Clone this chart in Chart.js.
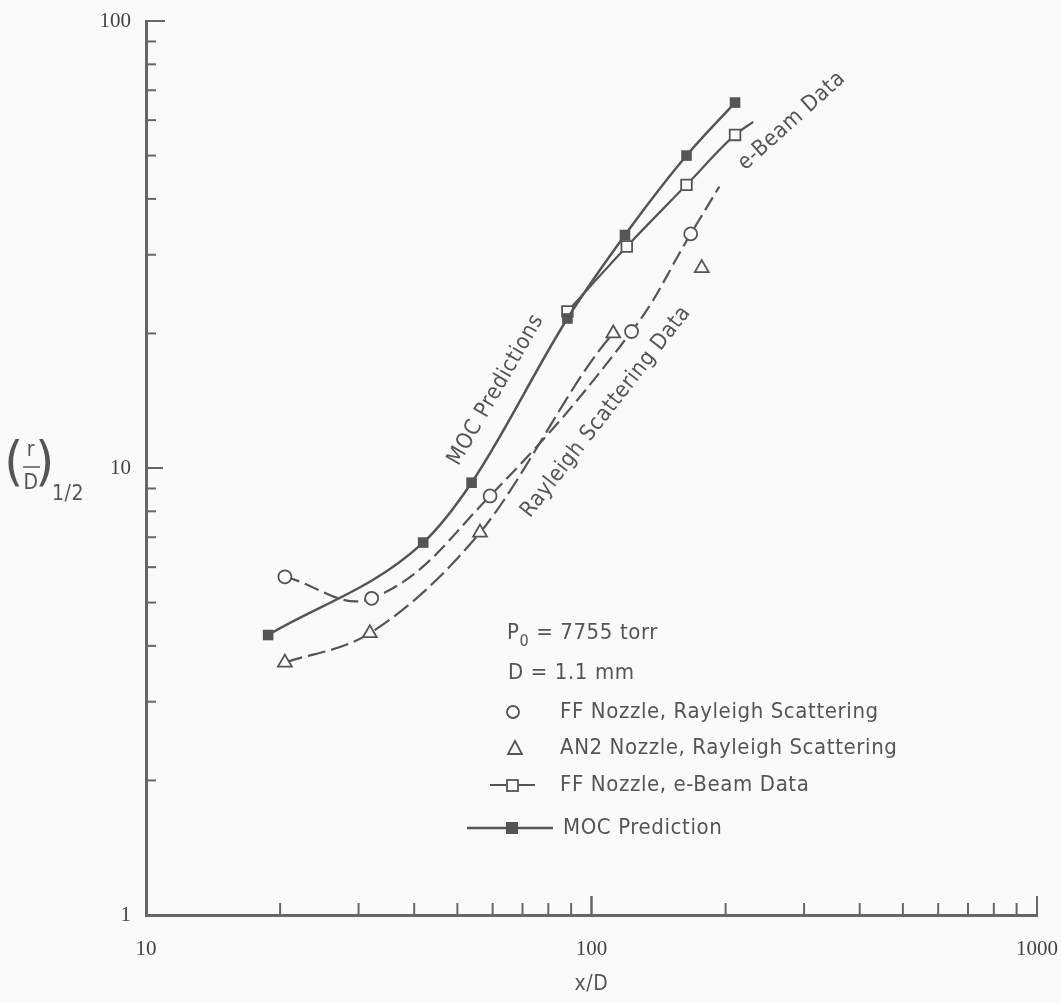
<!DOCTYPE html>
<html>
<head>
<meta charset="utf-8">
<script src="https://cdn.jsdelivr.net/npm/chart.js@4.4.0/dist/chart.umd.min.js"></script>
<style>
html, body { margin: 0; padding: 0; background: #fafafa; }
#wrap { width: 1061px; height: 1003px; }
</style>
</head>
<body>
<div id="wrap"><canvas id="chart" width="1061" height="1003"></canvas></div>
<script>
// values: x/D and (r/D)1/2
const mocX = [18.8, 41.9, 53.8, 88.3, 118.9, 163.4, 210];
const mocY = [4.23, 6.81, 9.27, 21.6, 33.2, 50.0, 65.7];

// last point of each of these two is only the end of the drawn curve
const ebeamX = [88.3, 120, 163.4, 210, 230.7];
const ebeamY = [22.4, 31.3, 43.0, 55.6, 59.5];

const ffRayX = [20.5, 32.1, 59.2, 123, 167, 193.6];
const ffRayY = [5.71, 5.11, 8.66, 20.2, 33.4, 42.6];

const an2X = [20.5, 31.8, 56.2, 111.9, 176.8];
const an2Y = [3.67, 4.27, 7.17, 20.0, 28.0];

const xTickLabels = [10, 100, 1000];
const yTickLabels = [1, 10, 100];

const ink = '#555555';
const axisInk = '#666666';
const sans = '"Liberation Sans Narrow", "DejaVu Sans Condensed", "Open Sans", sans-serif';
const serif = '"Liberation Serif", "DejaVu Serif", serif';

function pts(xs, ys) {
    return xs.map((x, i) => ({ x: x, y: ys[i] }));
}

function isLabel(list, v) {
    return list.some(t => Math.abs(t - v) < t * 1e-6);
}

// inward tick marks, axis titles, in-plot notes and the key
const decor = {
    id: 'decor',
    afterDraw(chart) {
        const ctx = chart.ctx;
        const xs = chart.scales.x, ys = chart.scales.y;
        const area = chart.chartArea;
        ctx.save();
        ctx.strokeStyle = axisInk;
        ctx.lineWidth = 2;
        // x ticks pointing up
        for (let d = 10; d < 1000; d *= 10) {
            for (let k = 1; k <= 10; k++) {
                if (d === 10 && k === 1) continue;
                const px = xs.getPixelForValue(k * d);
                const len = (k === 1 || k === 10) ? 19 : 12;
                ctx.beginPath();
                ctx.moveTo(px, area.bottom);
                ctx.lineTo(px, area.bottom - len);
                ctx.stroke();
            }
        }
        // y ticks pointing right
        for (let d = 1; d < 100; d *= 10) {
            for (let k = 2; k <= 10; k++) {
                if (d === 1 && k === 10) continue;
                const py = ys.getPixelForValue(k * d);
                const len = (k === 10) ? 19 : 10;
                ctx.beginPath();
                ctx.moveTo(area.left, py);
                ctx.lineTo(area.left + len, py);
                ctx.stroke();
            }
        }
        const p10 = ys.getPixelForValue(10);
        ctx.beginPath();
        ctx.moveTo(area.left, p10);
        ctx.lineTo(area.left + 17, p10);
        ctx.stroke();

        ctx.fillStyle = ink;
        ctx.textBaseline = 'middle';
        ctx.letterSpacing = '0.6px';

        // x title
        ctx.textAlign = 'center';
        ctx.font = '21px ' + sans;
        ctx.fillText('x/D', xs.getPixelForValue(100), 985);

        // y title (r/D)1/2
        ctx.font = '300 54px ' + sans;
        ctx.fillText('(', 14, 466);
        ctx.fillText(')', 45, 466);
        ctx.font = '21px ' + sans;
        ctx.fillText('r', 31, 451);
        ctx.fillText('D', 31, 484);
        ctx.lineWidth = 1.5;
        ctx.strokeStyle = ink;
        ctx.beginPath();
        ctx.moveTo(23, 467);
        ctx.lineTo(40, 467);
        ctx.stroke();
        ctx.textAlign = 'left';
        ctx.fillText('1/2', 52, 495);

        // notes along the curves
        const note = (txt, x, y, deg) => {
            ctx.save();
            ctx.translate(x, y);
            ctx.rotate(deg * Math.PI / 180);
            ctx.textAlign = 'center';
            ctx.fillText(txt, 0, 0);
            ctx.restore();
        };
        ctx.font = '22px ' + sans;
        note('MOC Predictions', 496, 390, -60);
        note('Rayleigh Scattering Data', 606, 412, -52);
        note('e-Beam Data', 792, 121, -42);

        // key
        ctx.textAlign = 'left';
        ctx.font = '22px ' + sans;
        ctx.fillText('P', 507, 633);
        let w = ctx.measureText('P').width;
        ctx.font = '16px ' + sans;
        ctx.fillText('0', 507 + w, 642);
        w += ctx.measureText('0').width;
        ctx.font = '22px ' + sans;
        ctx.fillText(' = 7755 torr', 507 + w, 633);
        ctx.fillText('D = 1.1 mm', 508, 673);

        ctx.lineWidth = 1.8;
        ctx.fillStyle = '#fafafa';
        ctx.beginPath();
        ctx.arc(513, 712, 6, 0, Math.PI * 2);
        ctx.fill(); ctx.stroke();
        ctx.beginPath();
        ctx.moveTo(515, 741);
        ctx.lineTo(522, 754);
        ctx.lineTo(508, 754);
        ctx.closePath();
        ctx.fill(); ctx.stroke();

        ctx.lineWidth = 2.2;
        ctx.beginPath();
        ctx.moveTo(490, 785); ctx.lineTo(506, 785);
        ctx.moveTo(518, 785); ctx.lineTo(535, 785);
        ctx.stroke();
        ctx.lineWidth = 1.8;
        ctx.fillRect(507, 780, 11, 11);
        ctx.strokeRect(507, 780, 11, 11);

        ctx.lineWidth = 2.5;
        ctx.beginPath();
        ctx.moveTo(467, 828); ctx.lineTo(553, 828);
        ctx.stroke();
        ctx.fillStyle = ink;
        ctx.fillRect(506, 822, 12, 12);

        ctx.fillText('FF Nozzle, Rayleigh Scattering', 560, 712);
        ctx.fillText('AN2 Nozzle, Rayleigh Scattering', 560, 748);
        ctx.fillText('FF Nozzle, e-Beam Data', 560, 785);
        ctx.fillText('MOC Prediction', 563, 828);
        ctx.restore();
    }
};

const ctx = document.getElementById('chart').getContext('2d');
new Chart(ctx, {
    type: 'scatter',
    data: {
        datasets: [
            {
                label: 'MOC Prediction',
                data: pts(mocX, mocY),
                showLine: true,
                cubicInterpolationMode: 'monotone',
                borderColor: ink,
                borderWidth: 2.5,
                pointStyle: 'rect',
                pointRadius: 7.5,
                pointBackgroundColor: ink,
                pointBorderColor: ink,
                pointBorderWidth: 0
            },
            {
                label: 'FF Nozzle, e-Beam Data',
                data: pts(ebeamX, ebeamY),
                showLine: true,
                cubicInterpolationMode: 'monotone',
                borderColor: ink,
                borderWidth: 2.2,
                pointStyle: 'rect',
                pointRadius: ebeamX.map((x, i) => i === ebeamX.length - 1 ? 0 : 7.5),
                pointBackgroundColor: '#fafafa',
                pointBorderColor: ink,
                pointBorderWidth: 1.8
            },
            {
                label: 'FF Nozzle, Rayleigh Scattering',
                data: pts(ffRayX, ffRayY),
                showLine: true,
                tension: 0.4,
                borderColor: ink,
                borderWidth: 2.2,
                borderDash: [15, 6],
                pointStyle: 'circle',
                pointRadius: ffRayX.map((x, i) => i === ffRayX.length - 1 ? 0 : 6.5),
                pointBackgroundColor: '#fafafa',
                pointBorderColor: ink,
                pointBorderWidth: 1.8
            },
            {
                label: 'AN2 Nozzle, Rayleigh Scattering',
                data: pts(an2X, an2Y),
                showLine: true,
                cubicInterpolationMode: 'monotone',
                borderColor: ink,
                borderWidth: 2.2,
                borderDash: [18, 6],
                segment: {
                    borderColor: c => c.p1DataIndex === an2X.length - 1 ? 'rgba(0,0,0,0)' : undefined
                },
                pointStyle: 'triangle',
                pointRadius: 8,
                pointBackgroundColor: '#fafafa',
                pointBorderColor: ink,
                pointBorderWidth: 1.8
            }
        ]
    },
    options: {
        responsive: false,
        animation: false,
        layout: { padding: { top: 21, right: 24, left: 0, bottom: 0 } },
        plugins: {
            legend: { display: false },
            tooltip: { enabled: false }
        },
        scales: {
            x: {
                type: 'logarithmic',
                min: 10,
                max: 1000,
                grid: { display: false, drawTicks: false },
                border: { display: true, color: axisInk, width: 3 },
                ticks: {
                    autoSkip: false,
                    maxRotation: 0,
                    padding: 22,
                    color: '#444',
                    font: { family: serif, size: 21 },
                    callback: v => isLabel(xTickLabels, v) ? String(v) : ''
                },
                afterFit: s => {
                    s.height = 88;
                    s.paddingLeft = 0;
                    s.paddingRight = 0;
                }
            },
            y: {
                type: 'logarithmic',
                min: 1,
                max: 100,
                grid: { display: false, drawTicks: false },
                border: { display: true, color: axisInk, width: 3 },
                ticks: {
                    autoSkip: false,
                    padding: 15,
                    color: '#444',
                    font: { family: serif, size: 21 },
                    callback: v => isLabel(yTickLabels, v) ? String(v) : ''
                },
                afterFit: s => {
                    s.width = 146;
                    s.paddingTop = 0;
                    s.paddingBottom = 0;
                }
            }
        }
    },
    plugins: [decor]
});
</script>
</body>
</html>
